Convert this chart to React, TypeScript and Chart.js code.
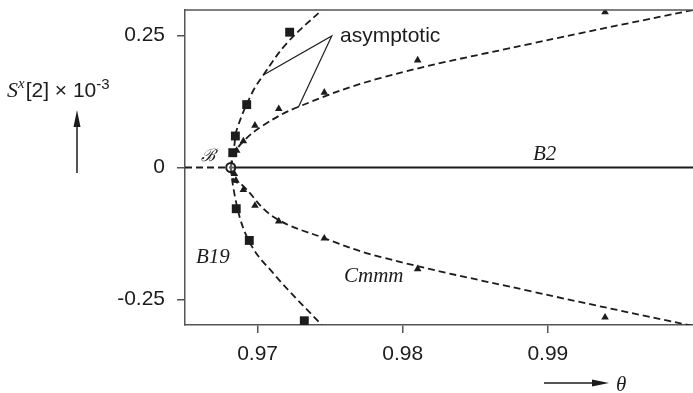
import React, { useEffect, useRef } from "react";
import { Chart, registerables } from "chart.js";

Chart.register(...registerables);

type P = [number, number];

const xTicks = [0.97, 0.98, 0.99];
const yTicks = [-0.25, 0, 0.25];
const yTickLabels = ["-0.25", "0", "0.25"];

const squaresUpper: P[] = [[0.96829, 0.028], [0.96847, 0.0596], [0.96925, 0.119], [0.97221, 0.256]];
const squaresLower: P[] = [[0.96853, -0.078], [0.96943, -0.138], [0.97322, -0.29]];
const trianglesUpper: P[] = [[0.96856, 0.032], [0.96902, 0.05], [0.96982, 0.0795], [0.97146, 0.111], [0.9746, 0.142], [0.98103, 0.203], [0.99394, 0.294]];
const trianglesLower: P[] = [[0.9684, -0.012], [0.96851, -0.0246], [0.96902, -0.042], [0.96982, -0.072], [0.97146, -0.1017], [0.9746, -0.134], [0.98103, -0.192], [0.99394, -0.2835]];
const bifurcationPoint: P[] = [[0.96815, 0]];

const curveB19Upper: P[] = [[0.96815, 0], [0.96825, 0.02], [0.9684, 0.042], [0.96856, 0.071], [0.9696, 0.14], [0.9704, 0.175], [0.97201, 0.235], [0.97442, 0.298]];
const curveB19Lower: P[] = [[0.96815, 0], [0.96823, -0.02], [0.9684, -0.049], [0.96879, -0.096], [0.96948, -0.143], [0.97108, -0.2], [0.97442, -0.298]];
const curveCmmmUpper: P[] = [[0.96815, 0], [0.9684, 0.025], [0.969, 0.049], [0.9704, 0.08], [0.97279, 0.1145], [0.97844, 0.169], [0.9888, 0.234], [1.0, 0.298]];
const curveCmmmLower: P[] = [[0.96815, 0], [0.9684, -0.025], [0.96893, -0.033], [0.97108, -0.093], [0.97453, -0.133], [0.97844, -0.169], [0.9888, -0.234], [1.0, -0.3]];
const branchBLeft: P[] = [[0.965, 0], [0.96815, 0]];
const branchB2: P[] = [[0.96815, 0], [1.0, 0]];
const asymptoticPointer: P[] = [[0.9704, 0.175], [0.97511, 0.2488], [0.97281, 0.1139]];

const toXY = (a: P[]) => a.map(([x, y]) => ({ x, y }));
const INK = "#1c1c1c";

const labelsPlugin = {
  id: "labels",
  afterDraw(chart: any) {
    const ctx = chart.ctx as CanvasRenderingContext2D;
    const area = chart.chartArea;
    ctx.save();
    ctx.strokeStyle = "#555";
    ctx.lineWidth = 1.5;
    ctx.beginPath();
    ctx.moveTo(area.left, area.top);
    ctx.lineTo(area.right, area.top);
    ctx.stroke();

    ctx.fillStyle = INK;
    ctx.textBaseline = "alphabetic";
    ctx.textAlign = "left";
    ctx.font = "21px 'Liberation Sans', Arial, sans-serif";
    ctx.fillText("asymptotic", 340, 42);
    ctx.font = "italic 21px 'Liberation Serif', 'Times New Roman', serif";
    ctx.fillText("B2", 533, 160);
    ctx.fillText("B19", 196, 263);
    ctx.fillText("Cmmm", 344, 282);
    ctx.font = "italic 17px 'DejaVu Serif', serif";
    ctx.fillText("\u212C", 201, 161);

    let x = 7;
    const by = 97;
    ctx.font = "italic 22px 'Liberation Serif', serif";
    ctx.fillText("S", x, by);
    x += ctx.measureText("S").width;
    ctx.font = "italic 15px 'Liberation Serif', serif";
    ctx.fillText("x", x, by - 9);
    x += ctx.measureText("x").width + 1;
    ctx.font = "21px 'Liberation Sans', Arial, sans-serif";
    ctx.fillText("[2] \u00D7 10", x, by);
    x += ctx.measureText("[2] \u00D7 10").width;
    ctx.font = "15px 'Liberation Sans', Arial, sans-serif";
    ctx.fillText("-3", x, by - 8);

    ctx.strokeStyle = INK;
    ctx.lineWidth = 1.5;
    ctx.beginPath();
    ctx.moveTo(77, 173);
    ctx.lineTo(77, 120);
    ctx.stroke();
    ctx.beginPath();
    ctx.moveTo(77, 110);
    ctx.lineTo(73.5, 127);
    ctx.lineTo(80.5, 127);
    ctx.closePath();
    ctx.fill();

    ctx.beginPath();
    ctx.moveTo(544, 383);
    ctx.lineTo(598, 383);
    ctx.stroke();
    ctx.beginPath();
    ctx.moveTo(609, 383);
    ctx.lineTo(592, 379.5);
    ctx.lineTo(592, 386.5);
    ctx.closePath();
    ctx.fill();
    ctx.font = "italic 21px 'Liberation Serif', serif";
    ctx.fillText("\u03B8", 616, 391);
    ctx.restore();
  },
};

export default function App() {
  const ref = useRef<HTMLCanvasElement>(null);
  useEffect(() => {
    if (!ref.current) return;
    const dash = [7, 4];
    const lineDs = (data: P[], opts: any = {}) => ({
      type: "line",
      data: toXY(data),
      borderColor: INK,
      borderWidth: 1.8,
      borderDash: dash,
      pointRadius: 0,
      tension: 0.4,
      fill: false,
      order: 2,
      ...opts,
    });
    const chart = new Chart(ref.current, {
      type: "scatter",
      data: {
        datasets: [
          { data: toXY([...squaresUpper, ...squaresLower]), pointStyle: "rect", pointRadius: 6.3, backgroundColor: INK, borderColor: INK, borderWidth: 0, order: 0 },
          { data: toXY([...trianglesUpper, ...trianglesLower]), pointStyle: "triangle", pointRadius: 4.4, backgroundColor: INK, borderColor: INK, borderWidth: 0, order: 0 },
          { data: toXY(bifurcationPoint), pointStyle: "circle", pointRadius: 4.5, backgroundColor: "rgba(255,255,255,0.3)", borderColor: INK, borderWidth: 2, order: 0 },
          lineDs(curveB19Upper),
          lineDs(curveB19Lower, { cubicInterpolationMode: "monotone" }),
          lineDs(curveCmmmUpper),
          lineDs(curveCmmmLower),
          lineDs(branchBLeft, { tension: 0 }),
          lineDs(branchB2, { tension: 0, borderDash: [], borderWidth: 2 }),
          lineDs(asymptoticPointer, { tension: 0, borderDash: [], borderWidth: 1.2 }),
        ] as any,
      },
      options: {
        animation: false,
        responsive: false,
        maintainAspectRatio: false,
        layout: { autoPadding: false, padding: { left: 0, right: 0, top: 10, bottom: 0 } },
        plugins: { legend: { display: false }, tooltip: { enabled: false } },
        scales: {
          x: {
            type: "linear",
            min: 0.965,
            max: 1.0,
            afterBuildTicks: (s: any) => { s.ticks = xTicks.map((v) => ({ value: v })); },
            afterFit: (s: any) => { s.height = 68; s.paddingLeft = 0; s.paddingRight = 0; },
            ticks: { color: INK, font: { size: 21, family: "'Liberation Sans', Arial, sans-serif" }, padding: 9, callback: (v: any) => Number(v).toFixed(2), maxRotation: 0 },
            grid: { display: true, drawOnChartArea: false, drawTicks: true, tickLength: 8, color: "#555", lineWidth: 1.5 },
            border: { display: true, color: "#555", width: 1.5 },
          },
          y: {
            type: "linear",
            min: -0.298,
            max: 0.298,
            afterBuildTicks: (s: any) => { s.ticks = yTicks.map((v) => ({ value: v })); },
            afterFit: (s: any) => { s.width = 185; s.paddingTop = 0; s.paddingBottom = 0; },
            ticks: { color: INK, font: { size: 21, family: "'Liberation Sans', Arial, sans-serif" }, padding: 12, callback: (v: any) => yTickLabels[yTicks.indexOf(Number(v))] ?? "" },
            grid: { display: true, drawOnChartArea: false, drawTicks: true, tickLength: 8, color: "#555", lineWidth: 1.5 },
            border: { display: true, color: "#555", width: 1.5 },
          },
        },
      },
      plugins: [labelsPlugin],
    } as any);
    return () => chart.destroy();
  }, []);
  return (
    <div style={{ position: "absolute", left: 0, top: 0, width: 693, height: 393, background: "#fff" }}>
      <canvas ref={ref} width={693} height={393} style={{ width: 693, height: 393 }} />
    </div>
  );
}
